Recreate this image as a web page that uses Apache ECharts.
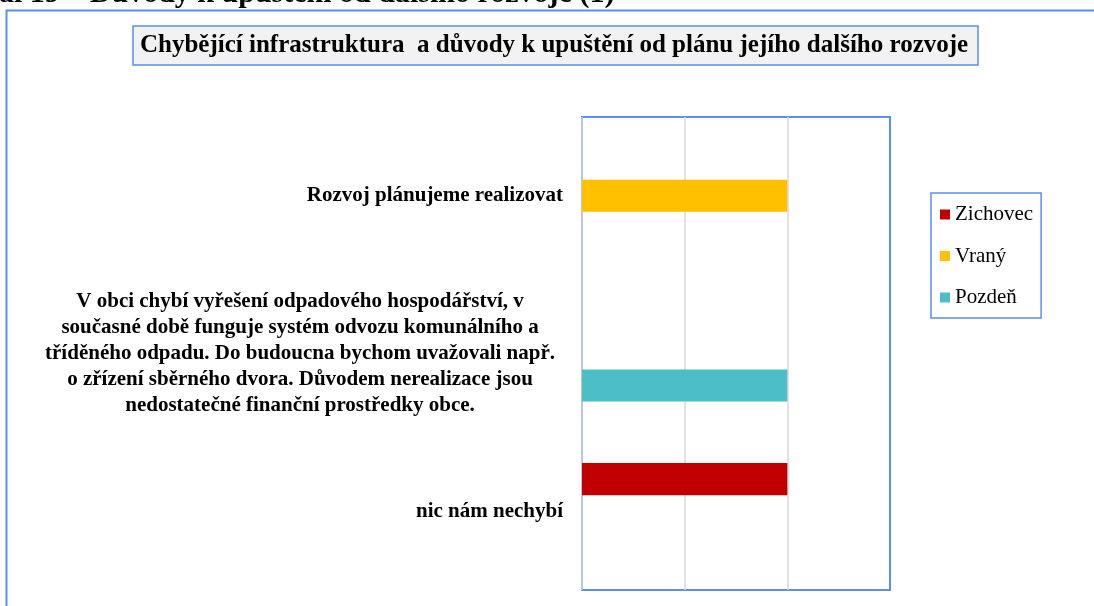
<!DOCTYPE html>
<html>
<head>
<meta charset="utf-8">
<script src="https://cdn.jsdelivr.net/npm/echarts@6/dist/echarts.min.js"></script>
<style>
  html, body { margin: 0; padding: 0; background: #fff; }
  #chart { width: 1094px; height: 606px; }
</style>
</head>
<body>
<div id="chart"></div>
<script>
// categories from bottom to top (category axis starts at the bottom)
const categories = [
  'nic nám nechybí',
  'V obci chybí vyřešení odpadového hospodářství, v\nsoučasné době funguje systém odvozu komunálního a\ntříděného odpadu. Do budoucna bychom uvažovali např.\no zřízení sběrného dvora. Důvodem nerealizace jsou\nnedostatečné finanční prostředky obce.',
  'Rozvoj plánujeme realizovat'
]
const zichovec = [2, null, null]
const vrany = [null, null, 2]
const pozden = [null, 2, null]
const legendNames = ['Zichovec', 'Vraný', 'Pozdeň']

const blue = '#5a8ff0'
const serif = '"Liberation Serif", "DejaVu Serif", serif'

const chart = echarts.init(document.getElementById('chart'))

chart.setOption({
  backgroundColor: '#fff',
  animation: false,
  graphic: [{
    type: 'rect',
    left: 4, top: 8,
    shape: { width: 1200, height: 700 },
    style: { fill: 'none', stroke: blue, lineWidth: 2 },
    z: -10
  }],
  title: [{
    text: 'al 19 – Důvody k upuštění od dalšího rozvoje (1)',
    left: -1, top: -21, padding: 0,
    textStyle: { fontFamily: serif, fontWeight: 'bold', fontSize: 30, color: '#000' }
  }, {
    text: 'Chybějící infrastruktura  a důvody k upuštění od plánu jejího dalšího rozvoje',
    left: 133, top: 26,
    padding: [7, 10, 7, 7],
    backgroundColor: '#f2f2f2',
    borderColor: blue,
    borderWidth: 1.5,
    textStyle: { fontFamily: serif, fontWeight: 'bold', fontSize: 25, color: '#000' }
  }],
  legend: {
    orient: 'vertical',
    left: 931, top: 193,
    padding: [11, 8, 10, 9],
    borderColor: blue,
    borderWidth: 1.5,
    itemWidth: 10, itemHeight: 10,
    itemGap: 20.5,
    icon: 'rect',
    data: legendNames,
    textStyle: { fontFamily: serif, fontSize: 21, color: '#000' }
  },
  grid: { left: 582, right: 204, top: 117, bottom: 16, containLabel: false,
    show: true, borderColor: blue, borderWidth: 2, backgroundColor: '#fff' },
  xAxis: {
    type: 'value', min: 0, max: 3, interval: 1,
    axisLabel: { show: false },
    axisLine: { show: false },
    axisTick: { show: false },
    splitLine: { lineStyle: { color: ['#d9d9d9', '#d9d9d9', '#d9d9d9', blue], width: 1.5 } }
  },
  yAxis: {
    type: 'category',
    data: categories,
    axisLine: { show: false },
    axisTick: { show: false },
    axisLabel: {
      interval: 0,
      margin: 19,
      formatter: v => v.indexOf('\n') >= 0
        ? v.split('\n').map(l => '{c|' + l + '}').join('\n')
        : '{r|' + v + '}',
      rich: {
        c: { align: 'center', fontFamily: serif, fontWeight: 'bold', fontSize: 21, lineHeight: 26,
          color: '#000', padding: [0, 8, 0, 0] },
        r: { fontFamily: serif, fontWeight: 'bold', fontSize: 21, color: '#000' }
      }
    }
  },
  series: [
    { name: 'Zichovec', type: 'bar', data: zichovec, itemStyle: { color: '#c00000' },
      barGap: '0%', barCategoryGap: '39%' },
    { name: 'Vraný', type: 'bar', data: vrany, itemStyle: { color: '#ffc000' } },
    { name: 'Pozdeň', type: 'bar', data: pozden, itemStyle: { color: '#4bbec7' } }
  ]
})
</script>
</body>
</html>
